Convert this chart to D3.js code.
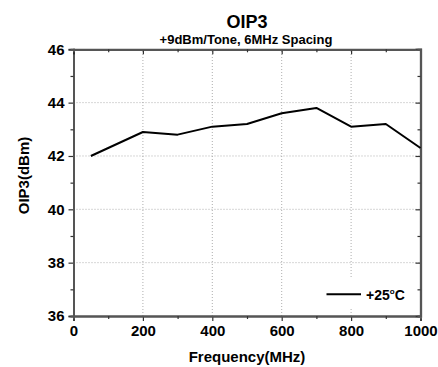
<!DOCTYPE html>
<html>
<head>
<meta charset="utf-8">
<script src="https://cdn.jsdelivr.net/npm/d3@7"></script>
<style>
  body { margin: 0; background: #fff; }
  svg text { font-family: Arial, "Liberation Sans", sans-serif; font-weight: bold; fill: #000; }
</style>
</head>
<body>
<svg id="chart" width="438" height="367"></svg>
<script>
const freq = [50, 200, 300, 400, 500, 600, 700, 800, 900, 1000]
const oip3 = [42.0, 42.9, 42.8, 43.1, 43.2, 43.6, 43.8, 43.1, 43.2, 42.3]
const xTicks = [0, 200, 400, 600, 800, 1000]
const yTicks = [36, 38, 40, 42, 44, 46]
const xMinor = [100, 300, 500, 700, 900]
const yMinor = [37, 39, 41, 43, 45]

const m = { left: 73.5, right: 17.5, top: 49.3, bottom: 51 }
const W = 438, H = 367
const svg = d3.select('#chart')

const x = d3.scaleLinear().domain([0, 1000]).range([m.left, W - m.right])
const y = d3.scaleLinear().domain([36, 46]).range([H - m.bottom, m.top])

// grid
const grid = svg.append('g').attr('stroke', '#999').attr('stroke-width', 0.8).attr('stroke-dasharray', '1,2')
grid.selectAll('.gx').data(xTicks.slice(1, -1)).join('line')
  .attr('x1', d => x(d)).attr('x2', d => x(d)).attr('y1', y(36)).attr('y2', y(46))
grid.selectAll('.gy').data(yTicks.slice(1, -1)).join('line')
  .attr('y1', d => y(d)).attr('y2', d => y(d)).attr('x1', x(0)).attr('x2', x(1000))

// axes
const fmt = d3.format('d')
svg.append('g').attr('transform', `translate(0,${y(36)})`)
  .call(d3.axisBottom(x).tickValues(xTicks).tickFormat(fmt).tickSize(5).tickPadding(4))
svg.append('g').attr('transform', `translate(0,${y(36)})`)
  .call(d3.axisBottom(x).tickValues(xMinor).tickFormat('').tickSize(3))
svg.append('g').attr('transform', `translate(${x(0)},0)`)
  .call(d3.axisLeft(y).tickValues(yTicks).tickFormat(fmt).tickSize(5).tickPadding(4))
svg.append('g').attr('transform', `translate(${x(0)},0)`)
  .call(d3.axisLeft(y).tickValues(yMinor).tickFormat('').tickSize(3))
// mirrored top / right
const topAx = svg.append('g').attr('transform', `translate(0,${y(46)})`)
  .call(d3.axisTop(x).tickValues(xTicks).tickFormat('').tickSize(-5))
svg.append('g').attr('transform', `translate(0,${y(46)})`)
  .call(d3.axisTop(x).tickValues(xMinor).tickFormat('').tickSize(-3))
const rightAx = svg.append('g').attr('transform', `translate(${x(1000)},0)`)
  .call(d3.axisRight(y).tickValues(yTicks).tickFormat('').tickSize(-5))
svg.append('g').attr('transform', `translate(${x(1000)},0)`)
  .call(d3.axisRight(y).tickValues(yMinor).tickFormat('').tickSize(-3))

svg.selectAll('.domain').attr('stroke', '#555').attr('stroke-width', 2)
svg.selectAll('.tick line').attr('stroke', '#333').attr('stroke-width', 1.2)
topAx.select('.domain').attr('stroke', '#222').attr('stroke-width', 1.8)
rightAx.select('.domain').attr('stroke', '#777').attr('stroke-width', 2.4)
svg.selectAll('.tick text').style('font-size', '15px')

// line
svg.append('path')
  .datum(freq.map((f, i) => [f, oip3[i]]))
  .attr('fill', 'none').attr('stroke', '#000').attr('stroke-width', 2)
  .attr('stroke-linejoin', 'round')
  .attr('d', d3.line().x(d => x(d[0])).y(d => y(d[1])))

// legend
const lg = svg.append('g')
lg.append('rect').attr('x', 322).attr('y', 278).attr('width', 95).attr('height', 29).attr('fill', '#fff')
lg.append('line').attr('x1', 326.5).attr('x2', 361).attr('y1', 294.3).attr('y2', 294.3)
  .attr('stroke', '#000').attr('stroke-width', 2)
const lt = lg.append('text').attr('x', 366).attr('y', 299.5).style('font-size', '14px')
lt.append('tspan').text('+25')
lt.append('tspan').text('o').attr('dy', -6).style('font-size', '8px')
lt.append('tspan').text('C').attr('dy', 6)

// titles
svg.append('text').attr('x', 247).attr('y', 27.5).attr('text-anchor', 'middle').style('font-size', '18px').text('OIP3')
svg.append('text').attr('x', 246).attr('y', 43.5).attr('text-anchor', 'middle').style('font-size', '13px').text('+9dBm/Tone, 6MHz Spacing')
svg.append('text').attr('x', 247).attr('y', 361.5).attr('text-anchor', 'middle').style('font-size', '15px').text('Frequency(MHz)')
svg.append('text').attr('transform', `translate(28.5,175.5) rotate(-90)`)
  .attr('text-anchor', 'middle').style('font-size', '15px').text('OIP3(dBm)')
</script>
</body>
</html>
